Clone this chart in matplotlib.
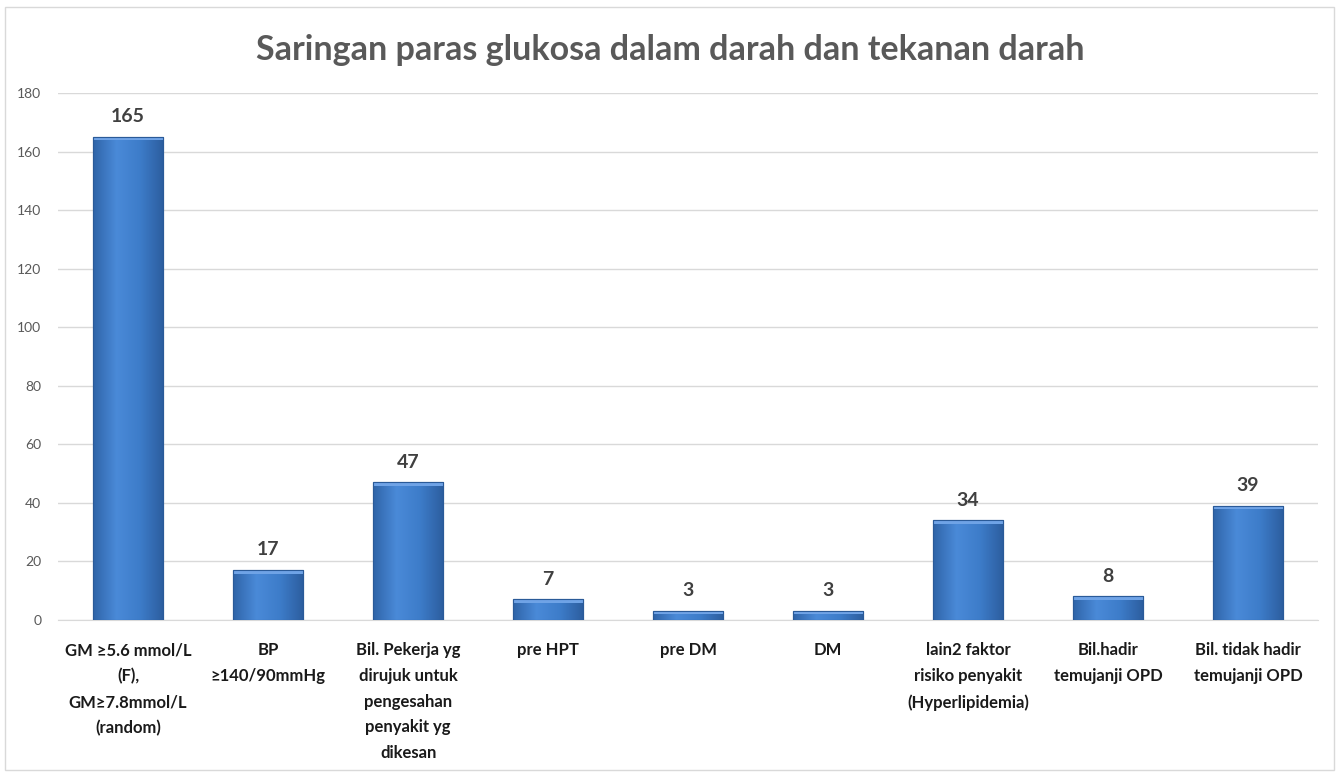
import numpy as np
import matplotlib.pyplot as plt
from matplotlib.patches import Rectangle
from matplotlib.colors import LinearSegmentedColormap

plt.rcParams['font.family'] = ['Lato', 'DejaVu Sans']

categories = [
    "GM \u22655.6 mmol/L\n(F),\nGM\u22657.8mmol/L\n(random)",
    "BP\n\u2265140/90mmHg",
    "Bil. Pekerja yg\ndirujuk untuk\npengesahan\npenyakit yg\ndikesan",
    "pre HPT",
    "pre DM",
    "DM",
    "lain2 faktor\nrisiko penyakit\n(Hyperlipidemia)",
    "Bil.hadir\ntemujanji OPD",
    "Bil. tidak hadir\ntemujanji OPD",
]
values = [165, 17, 47, 7, 3, 3, 34, 8, 39]
title = "Saringan paras glukosa dalam darah dan tekanan darah"

fig = plt.figure(figsize=(13.41, 7.72), dpi=100)
fig.patches.append(Rectangle((0.004, 0.003), 0.991, 0.988, transform=fig.transFigure,
                             fill=False, edgecolor='#d9d9d9', linewidth=1))
ax = fig.add_axes([0.0433, 0.197, 0.9396, 0.6826])

x = np.arange(len(values))
bars = ax.bar(x, values, width=0.5, color='#3f7fcf', edgecolor='#2a5a98', linewidth=0.8, zorder=3)

# horizontal gradient inside each bar to mimic the bevel look
cmap = LinearSegmentedColormap.from_list('bev', ['#2f64a8', '#4a8ad8', '#3d7cc9', '#2c5d9e'])
grad = np.linspace(0, 1, 256).reshape(1, -1)
for b in bars:
    x0, w, h = b.get_x(), b.get_width(), b.get_height()
    im = ax.imshow(grad, cmap=cmap, aspect='auto', extent=[x0, x0 + w, 0, h], zorder=3.5)
    im.set_clip_path(b)
    ax.add_patch(Rectangle((x0, h), w, -min(1.2, h * 0.3), facecolor='#6fa3e6',
                           edgecolor='none', zorder=3.6))
    ax.add_patch(Rectangle((x0, 0), w, h, fill=False, edgecolor='#2a5a98', linewidth=0.8, zorder=3.7))

for xi, v in zip(x, values):
    ax.text(xi, v + 4, str(v), ha='center', va='bottom', fontsize=14,
            fontweight='bold', color='#404040')

ax.set_xlim(-0.5, len(values) - 0.5)
ax.set_ylim(0, 180)
ax.set_yticks(range(0, 181, 20))
ax.yaxis.grid(True, color='#d9d9d9', linewidth=1, zorder=0)
ax.set_axisbelow(True)
for s in ['top', 'right', 'left']:
    ax.spines[s].set_visible(False)
ax.spines['bottom'].set_color('#d9d9d9')
ax.tick_params(axis='y', length=0, labelsize=10, labelcolor='#595959', pad=12)
ax.tick_params(axis='x', length=0, pad=16)
ax.set_xticks(x)
ax.set_xticklabels(categories, fontsize=12, fontweight='bold', color='#1a1a1a',
                   linespacing=1.75, va='top')

fig.text(0.5, 0.935, title, ha='center', va='center', fontsize=24.5,
         fontweight='bold', color='#595959')

fig.savefig('out.png', dpi=100)
